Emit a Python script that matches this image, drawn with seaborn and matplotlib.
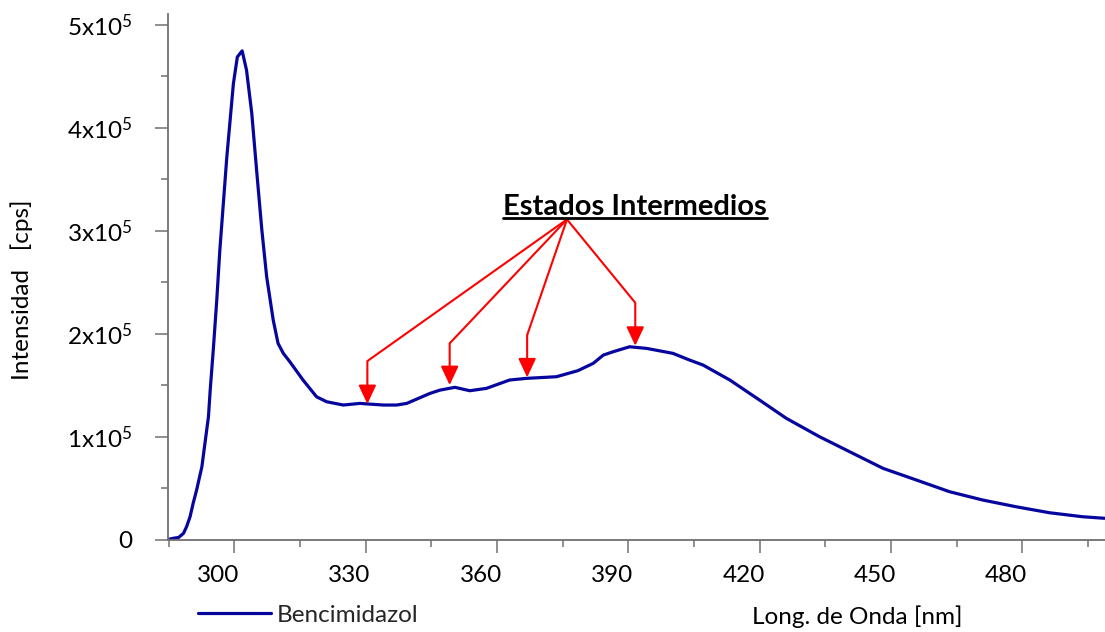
import numpy as np
import pandas as pd
import matplotlib
matplotlib.use("Agg")
import matplotlib.pyplot as plt
import seaborn as sns
from matplotlib.ticker import FixedLocator, MultipleLocator
from matplotlib.transforms import ScaledTranslation
from matplotlib.lines import Line2D

# ---------------- data ----------------
wavelength = [284.9, 286.1, 287.3, 288.4, 289.1, 289.9, 290.6, 291.4, 292.6, 293.3,
              294.1, 294.5, 295.2, 296.0, 296.7, 298.3, 299.8, 300.7, 301.8, 302.8,
              304.0, 305.1, 306.3, 307.4, 308.9, 310.0, 311.2, 312.7, 315.7, 318.8,
              321.1, 324.9, 328.7, 330.6, 334.1, 337.1, 339.4, 341.7, 344.7, 347.0,
              350.4, 353.8, 357.6, 362.9, 366.7, 373.6, 378.5, 382.0, 384.3, 386.5,
              390.3, 394.2, 400.2, 404.0, 407.1, 413.2, 420.0, 426.1, 433.7, 441.3,
              448.2, 455.8, 463.4, 471.0, 478.6, 486.2, 493.8, 498.8]
intensity = [0, 1200, 2000, 6000, 12400, 22100, 35100, 48100, 70700, 93400,
             119200, 145200, 184000, 232500, 281000, 371700, 442900, 468700, 474600, 455800,
             413800, 358700, 300500, 255100, 213000, 190500, 180800, 172600, 154900, 138600,
             133800, 130600, 132200, 131600, 130600, 130600, 132200, 136400, 141900, 145100,
             147800, 144500, 146800, 154900, 156500, 158100, 164000, 171100, 179100, 182300,
             187200, 185600, 180800, 174300, 169400, 154900, 135400, 117700, 99800, 83700,
             69100, 57800, 46400, 38300, 31800, 26000, 22100, 20600]
series_name = "Bencimidazol"

x_ticks = [300, 330, 360, 390, 420, 450, 480]
y_ticks = [0, 100000, 200000, 300000, 400000, 500000]
y_tick_labels = ["0", r"$1\mathrm{x}10^{5}$", r"$2\mathrm{x}10^{5}$",
                 r"$3\mathrm{x}10^{5}$", r"$4\mathrm{x}10^{5}$", r"$5\mathrm{x}10^{5}$"]
x_label = "Long. de Onda [nm]"
y_label = "Intensidad   [cps]"

annotation_text = "Estados Intermedios"
annotation_text_pos = (391.5, 315200)
arrow_origin = (376.0, 310900)
arrow_elbow_x = [330.4, 349.2, 366.9, 391.6]
arrow_elbow_y = [173300, 190500, 198500, 229900]
arrow_tip_y = [131600, 150000, 157500, 188200]

# ---------------- style ----------------
sns.set_theme(style="ticks")
plt.rcParams["font.family"] = ["Lato", "DejaVu Sans"]
plt.rcParams["mathtext.fontset"] = "custom"
plt.rcParams["mathtext.rm"] = "Lato"
plt.rcParams["mathtext.it"] = "Lato:italic"
plt.rcParams["mathtext.bf"] = "Lato:bold"

W, H = 1105, 632
fig = plt.figure(figsize=(W / 100, H / 100), dpi=100)
ax = fig.add_axes([168 / W, (H - 539.5) / H, (W - 168) / W, (539.5 - 14) / H])

line_color = "#06069E"
spine_color = "#707070"
fs = 17.5

df = pd.DataFrame({"Longitud": wavelength, "Intensidad": intensity})
sns.lineplot(data=df, x="Longitud", y="Intensidad", ax=ax, color=line_color,
             linewidth=2.3, label=series_name, estimator=None, legend=False)

ax.set_xlim(284.86, 498.9)
ax.set_ylim(0, 510400)

for s in ["top", "right"]:
    ax.spines[s].set_visible(False)
for s in ["left", "bottom"]:
    ax.spines[s].set_color(spine_color)
    ax.spines[s].set_linewidth(1.3)

ax.xaxis.set_major_locator(FixedLocator(x_ticks))
ax.xaxis.set_minor_locator(MultipleLocator(15))
ax.set_xticklabels([str(t) for t in x_ticks])
ax.yaxis.set_major_locator(FixedLocator(y_ticks))
ax.yaxis.set_minor_locator(MultipleLocator(50000))
ax.set_yticklabels(y_tick_labels)

ax.tick_params(axis="both", which="major", direction="out", length=9.4, width=1.1,
               color=spine_color, labelsize=fs, labelcolor="black")
ax.tick_params(axis="both", which="minor", direction="out", length=5, width=1.1,
               color=spine_color)
ax.tick_params(axis="y", which="major", pad=16)
ax.tick_params(axis="x", which="major", pad=9)

shift = ScaledTranslation(-16 / 100, 0, fig.dpi_scale_trans)
for lab in ax.get_xticklabels():
    lab.set_transform(lab.get_transform() + shift)

ax.set_xlabel(x_label, fontsize=fs, color="black")
ax.xaxis.set_label_coords(0.736, -0.125)
ax.set_ylabel(y_label, fontsize=fs, color="black")
ax.yaxis.set_label_coords(-0.144, 0.475)

# legend below the plot, left
handle = Line2D([], [], color=line_color, linewidth=2.3)
ax.legend([handle], [series_name], loc="center left",
          bbox_to_anchor=(198 / W, 1 - 615 / H), bbox_transform=fig.transFigure,
          frameon=False, borderpad=0, borderaxespad=0, handlelength=3.0,
          handletextpad=0.25, fontsize=fs)

# annotation arrows
red = "#FF0000"
for ex, ey, ty in zip(arrow_elbow_x, arrow_elbow_y, arrow_tip_y):
    ax.plot([arrow_origin[0], ex], [arrow_origin[1], ey], color=red, lw=1.5,
            solid_capstyle="butt")
    ax.annotate("", xy=(ex, ty), xytext=(ex, ey),
                arrowprops=dict(arrowstyle="-|>,head_length=1.15,head_width=0.54",
                                color=red, lw=1.5, mutation_scale=10,
                                shrinkA=0, shrinkB=0))

title = ax.text(annotation_text_pos[0], annotation_text_pos[1], annotation_text,
                ha="center", va="baseline", fontsize=21, fontweight="bold",
                color="black")
fig.canvas.draw()
bb = title.get_window_extent(fig.canvas.get_renderer())
base_y = ax.transData.transform(annotation_text_pos)[1]
uy = base_y - 3.5
fig.add_artist(Line2D([bb.x0 / W, bb.x1 / W], [uy / H, uy / H],
                      transform=fig.transFigure, color="black", linewidth=2.0))

fig.savefig("out.png", dpi=100)
